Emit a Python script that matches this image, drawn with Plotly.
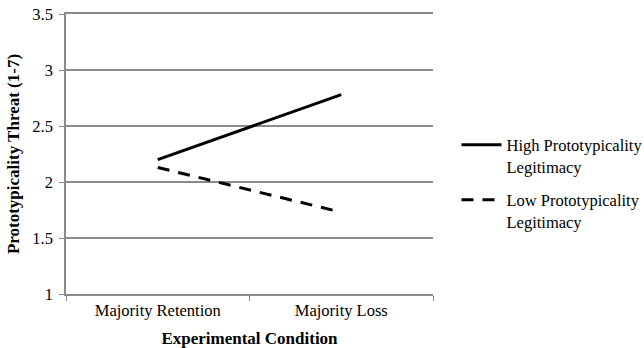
import plotly.graph_objects as go

categories = ["Majority Retention", "Majority Loss"]
high_values = [2.2, 2.78]
low_values = [2.13, 1.73]
series_names = ["High Prototypicality<br>Legitimacy", "Low Prototypicality<br>Legitimacy"]
y_ticks = [1, 1.5, 2, 2.5, 3, 3.5]
y_tick_labels = ["1", "1.5", "2", "2.5", "3", "3.5"]

FONT = "Liberation Serif"
GRID = "#8a8a8a"

fig = go.Figure()
fig.add_trace(go.Scatter(x=categories, y=high_values, mode="lines", name=series_names[0],
                         legendgroup="a", line=dict(color="black", width=3)))
fig.add_trace(go.Scatter(x=categories, y=low_values, mode="lines", name=series_names[1],
                         legendgroup="b", line=dict(color="black", width=3, dash="12px,9px")))

fig.update_layout(
    width=644, height=348,
    margin=dict(l=66, r=211, t=14, b=54, autoexpand=False),
    paper_bgcolor="white", plot_bgcolor="white",
    font=dict(family=FONT, size=16.5, color="black"),
    legend=dict(x=1.064, y=0.396, xanchor="left", yanchor="middle", valign="top",
                font=dict(family=FONT, size=16.5), tracegroupgap=9,
                itemwidth=40),
    xaxis=dict(type="category", range=[-0.5, 1.5], automargin=False,
               showline=True, mirror=True, linecolor=GRID, linewidth=1.5,
               ticks="outside", tickson="boundaries", ticklen=5, tickcolor=GRID,
               showgrid=False, tickfont=dict(size=16.5),
               title=dict(text="<b>Experimental Condition</b>", font=dict(size=17), standoff=14)),
    yaxis=dict(range=[1, 3.5], tickvals=y_ticks, ticktext=y_tick_labels, automargin=False,
               showline=True, linecolor=GRID, linewidth=1.5,
               ticks="outside", ticklen=5, tickcolor=GRID, ticklabelstandoff=3,
               showgrid=True, gridcolor=GRID, gridwidth=1.5,
               zeroline=False, tickfont=dict(size=16.5),
               title=dict(text="<b>Prototypicality Threat (1-7)</b>", font=dict(size=17), standoff=8)),
)

fig.write_html("out.html", config={"displayModeBar": False},
               post_script="document.body.style.margin='0';")
